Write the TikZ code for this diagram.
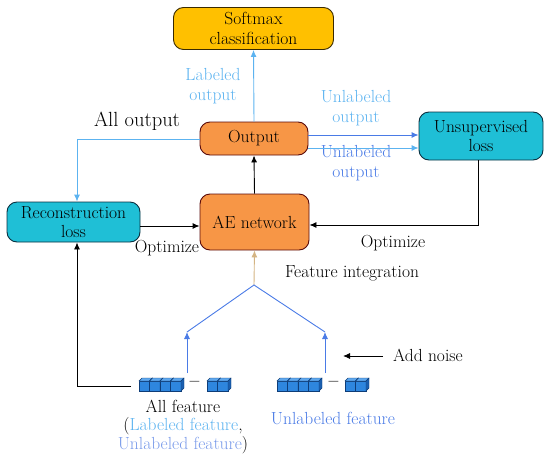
\documentclass[tikz,border=0pt]{standalone}
\usepackage{fontspec}
\usetikzlibrary{arrows.meta}
\definecolor{gold}{HTML}{FFC000}
\definecolor{goldedge}{HTML}{3A2A00}
\definecolor{orng}{HTML}{F79646}
\definecolor{orngedge}{HTML}{5A0A0A}
\definecolor{cyanbox}{HTML}{1FBFD6}
\definecolor{cyanedge}{HTML}{0A3040}
\definecolor{lblue}{HTML}{5CB3F0}
\definecolor{mblue}{HTML}{4A7BE6}
\definecolor{pblue}{HTML}{7A9BEA}
\definecolor{tan}{HTML}{D4B483}
\definecolor{cubefront}{HTML}{2E86DE}
\definecolor{cubetop}{HTML}{5FA8EE}
\definecolor{cubeside}{HTML}{1A5FAF}
\definecolor{cubeedge}{HTML}{0E3D78}
\tikzset{
  box/.style={draw, line width=0.9pt, rounded corners=10pt, align=center, inner sep=1pt, font=\fontsize{17.5}{19.5}\selectfont},
  txt/.style={align=center, inner sep=0pt, font=\fontsize{17.5}{20}\selectfont},
  arr/.style={-{Latex[length=7pt,width=6pt]}, line width=0.9pt},
}
\newcommand\mycuberow[3]{%
  \foreach \i in {1,...,#3}{%
    \pgfmathsetmacro\cx{#1+(\i-1)*10.5}%
    \filldraw[fill=cubefront, draw=cubeedge, line width=0.4pt] (\cx,#2+3) rectangle (\cx+10.5,#2+13);
    \filldraw[fill=cubetop, draw=cubeedge, line width=0.4pt] (\cx,#2+3) -- (\cx+3,#2) -- (\cx+13.5,#2) -- (\cx+10.5,#2+3) -- cycle;
    \filldraw[fill=cubeside, draw=cubeedge, line width=0.4pt] (\cx+10.5,#2+3) -- (\cx+13.5,#2) -- (\cx+13.5,#2+10) -- (\cx+10.5,#2+13) -- cycle;
  }%
}
\begin{document}
\begin{tikzpicture}[x=1pt,y=-1pt]
\useasboundingbox (0,0) rectangle (550,461);

% boxes
\node[box, fill=gold, draw=goldedge, minimum width=160pt, minimum height=42pt] (soft) at (253.5,28.5) {Softmax\\classification};
\node[box, fill=orng, draw=orngedge, minimum width=108pt, minimum height=33pt] (out) at (254,138.5) {Output};
\node[box, fill=orng, draw=orngedge, minimum width=109pt, minimum height=56pt] (ae) at (254.5,222) {AE network};
\node[box, fill=cyanbox, draw=cyanedge, minimum width=133pt, minimum height=40pt] (rec) at (73.5,222) {Reconstruction\\loss};
\node[box, fill=cyanbox, draw=cyanedge, minimum width=124pt, minimum height=48pt] (uns) at (481,136) {Unsupervised\\loss};

% labels
\node[txt, text=lblue] (lo) at (213,86) {Labeled\\output};
\node[txt, font=\fontsize{20.5}{24}\selectfont] (allout) at (137,121) {All output};
\node[txt, text=lblue] (uo1) at (356,108) {Unlabeled\\output};
\node[txt, text=mblue] (uo2) at (356,163) {Unlabeled\\output};
\node[txt] (opt1) at (167,248) {Optimize};
\node[txt] (opt2) at (393,243) {Optimize};
\node[txt] (fi) at (352,273) {Feature integration};
\node[txt] (an) at (428,355) {Add noise};
\node[txt] (af) at (183,406) {All feature};
\node[txt] (af2) at (183,426) {(\textcolor{lblue}{Labeled feature},};
\node[txt] (af3) at (183,445) {\textcolor{pblue}{Unlabeled feature})};
\node[txt, text=mblue] (uf) at (333,418) {Unlabeled feature};
\node[txt] (d1) at (194.5,384) {\bfseries –};
\node[txt] (d2) at (333.5,384) {\bfseries –};

% cubes
\mycuberow{139}{378}{4}
\mycuberow{207}{378}{2}
\mycuberow{277}{378}{4}
\mycuberow{345}{378}{2}

% coordinates
\coordinate (apex) at (254,285);
\coordinate (lt) at (187,332);
\coordinate (rt) at (325,332);
\coordinate (lb) at (187,373);
\coordinate (rb) at (325,373);
\coordinate (cornerA) at (77,139);
\coordinate (cornerB) at (77,386);
\coordinate (featL) at (131,386);
\coordinate (cornerC) at (478,225);
\coordinate (n1) at (383,356);
\coordinate (n2) at (343,356);

% connectors
\draw[arr, lblue] (out.north) -- (soft.south);
\draw[arr] (ae.north) -- (out.south);
\draw[arr, lblue] (out.west |- cornerA) -- (cornerA) -- (rec.north -| cornerA);
\draw[arr, lblue] ([yshift=-9.5pt]out.east) -- ([yshift=-9.5pt]out.east -| uns.west) ;
\draw[arr, mblue] ([yshift=3.5pt]out.east) -- ([yshift=3.5pt]out.east -| uns.west);
\draw[arr] (rec.east |- 0,226) -- (ae.west |- 0,226);
\draw[arr] (uns.south -| cornerC) -- (cornerC) -- (ae.east |- cornerC);
\draw[arr] (featL) -- (cornerB) -- (rec.south -| cornerB);
\draw[arr, tan] (apex) -- (ae.south);
\draw[mblue, line width=0.9pt] (lt) -- (apex) -- (rt);
\draw[arr, mblue] (lb) -- (lt);
\draw[arr, mblue] (rb) -- (rt);
\draw[arr] (n1) -- (n2);
\end{tikzpicture}
\end{document}
